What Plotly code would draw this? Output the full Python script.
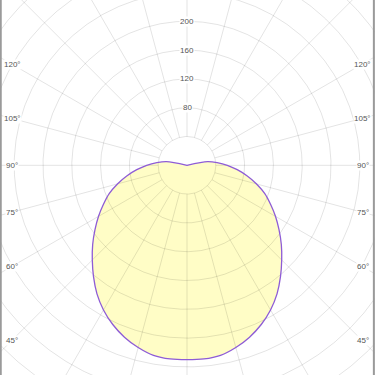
import numpy as np
import plotly.graph_objects as go

# Luminous intensity distribution (half curve, symmetric), angle from nadir in degrees
angles_deg = [0, 5, 10, 15, 20, 25, 30, 35, 40, 45, 50, 55, 60, 65, 70, 75, 80, 85, 90,
              95, 100, 105, 120, 135, 150, 165, 180]
intensity = [270, 270, 268, 262, 254, 244, 232, 218, 202, 186, 171, 156, 142, 128, 115, 100, 85, 70, 56,
             42, 29, 0, 0, 0, 0, 0, 0]

ring_values = [40, 80, 120, 160, 200, 240, 280, 320, 360, 400, 440]
ring_labels = [80, 120, 160, 200]
spoke_angles = list(range(0, 360, 15))
angle_labels = [45, 60, 75, 90, 105, 120]

W = H = 375
scale = 0.72          # px per unit
cx_px, cy_px = 187, 165.3
x_range = [-cx_px / scale, (W - cx_px) / scale]
y_range = [-(H - cy_px) / scale, cy_px / scale]

# full symmetric curve
th_full = angles_deg + [360 - a for a in angles_deg[::-1][1:]]
r_full = intensity + intensity[::-1][1:]
th = np.radians(th_full)
r = np.array(r_full, dtype=float)
cx = r * np.sin(th)
cy = -r * np.cos(th)

fig = go.Figure()

fig.add_trace(go.Scatter(x=cx, y=cy, mode="lines", fill="toself",
                         fillcolor="#FFFDC6", line=dict(width=0, shape="spline", smoothing=0.8),
                         hoverinfo="skip"))

# rings
gx, gy = [], []
t = np.linspace(0, 2 * np.pi, 721)
for rv in ring_values:
    gx += list(rv * np.sin(t)) + [None]
    gy += list(rv * np.cos(t)) + [None]
# spokes
for a in spoke_angles:
    ar = np.radians(a)
    gx += [ring_values[0] * np.sin(ar), ring_values[-1] * np.sin(ar), None]
    gy += [-ring_values[0] * np.cos(ar), -ring_values[-1] * np.cos(ar), None]
fig.add_trace(go.Scatter(x=gx, y=gy, mode="lines",
                         line=dict(color="rgba(0,0,0,0.11)", width=1),
                         hoverinfo="skip"))

fig.add_trace(go.Scatter(x=cx, y=cy, mode="lines",
                         line=dict(color="#8E5CD6", width=1.3, shape="spline", smoothing=0.8),
                         hoverinfo="skip"))

font = dict(family="Arial, Liberation Sans", size=8, color="#555")
for rv in ring_labels:
    fig.add_annotation(x=0, y=rv, text=str(rv), showarrow=False, font=font,
                       bgcolor="white", borderpad=0, xanchor="center", yanchor="middle")

inset = (cx_px - 12) / scale
for a in angle_labels:
    ar = np.radians(a)
    yv = -inset * np.cos(ar) / np.sin(ar)
    fig.add_annotation(x=-inset, y=yv, text=f"{a}°", showarrow=False, font=font,
                       xanchor="center", yanchor="middle", bgcolor="white", borderpad=0)
    fig.add_annotation(x=inset + 1, y=yv, text=f"{a}°", showarrow=False, font=font,
                       xanchor="center", yanchor="middle", bgcolor="white", borderpad=0)

fig.add_shape(type="line", xref="paper", yref="paper", x0=0.002, x1=0.002, y0=0, y1=1,
              line=dict(color="#9a9a9a", width=2))
fig.add_shape(type="line", xref="paper", yref="paper", x0=0.997, x1=0.997, y0=0, y1=1,
              line=dict(color="#9a9a9a", width=2))

fig.update_layout(
    width=W, height=H, margin=dict(l=0, r=0, t=0, b=0),
    paper_bgcolor="white", plot_bgcolor="white", showlegend=False,
    xaxis=dict(range=x_range, visible=False, fixedrange=True),
    yaxis=dict(range=y_range, visible=False, fixedrange=True),
)
fig.write_html("out.html")
